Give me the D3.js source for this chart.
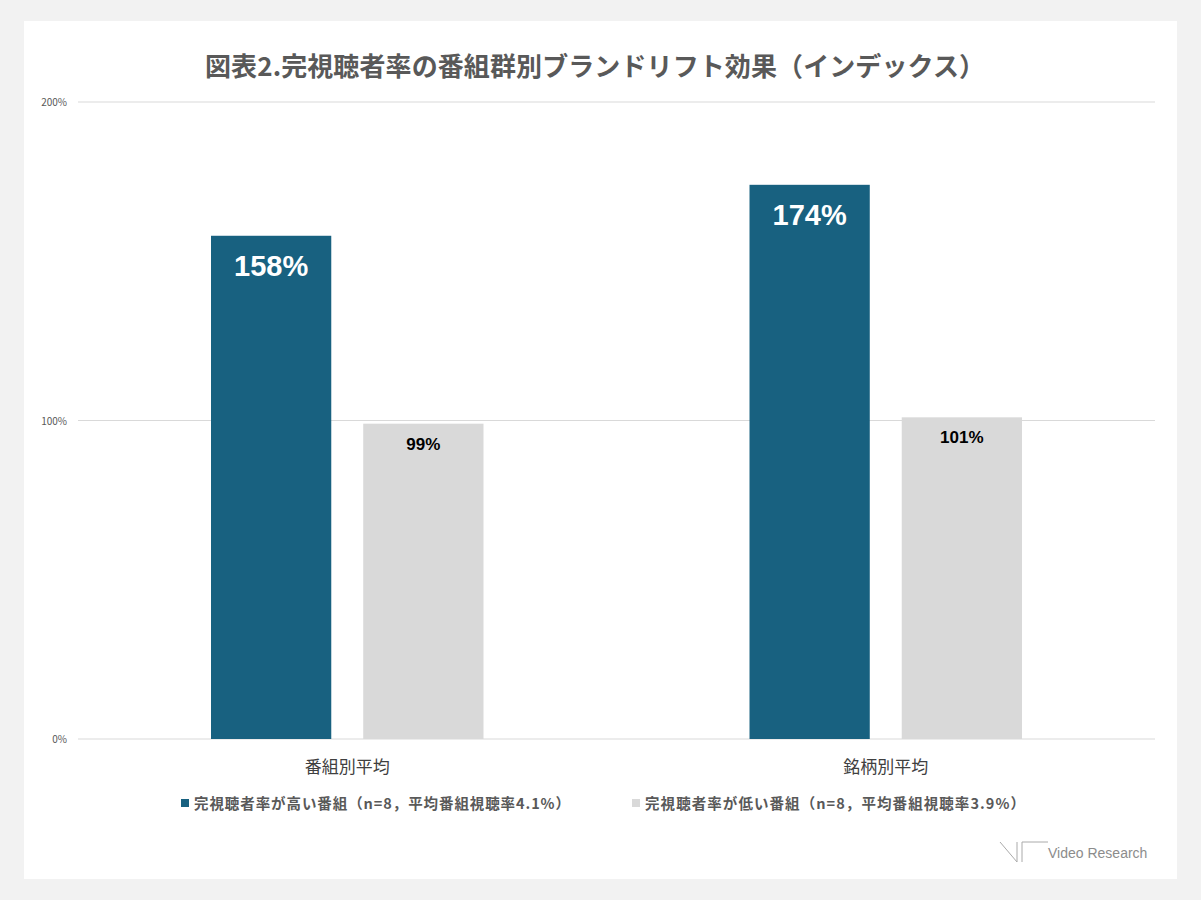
<!DOCTYPE html>
<html><head><meta charset="utf-8">
<script src="https://cdn.jsdelivr.net/npm/d3@7"></script>
<style>body{margin:0;background:#f2f2f2;font-family:"Noto Sans CJK JP","Noto Sans",sans-serif}</style>
</head><body><svg id="c" width="1201" height="900"></svg>
<script>
const categories=["番組別平均","銘柄別平均"];
const seriesNames=["完視聴者率が高い番組（n=8，平均番組視聴率4.1%）","完視聴者率が低い番組（n=8，平均番組視聴率3.9%）"];
const highValues=[158,174];
const lowValues=[99,101];
const tickValues=[0,100,200];
const colors=["#186180","#d9d9d9"];

const svg=d3.select("#c");
svg.append("rect").attr("x",24).attr("y",21).attr("width",1153).attr("height",858).attr("fill","#fff");
svg.append("text").attr("x",595).attr("y",76).attr("text-anchor","middle").attr("font-size",26).attr("font-weight","bold").attr("fill","#595959").attr("textLength",780).text("図表2.完視聴者率の番組群別ブランドリフト効果（インデックス）");

const y=d3.scaleLinear().domain([0,200]).range([739,102]);
const x0=d3.scaleBand().domain(categories).range([78,1155]);
const bw=x0.bandwidth();
const x1=d3.scaleBand().domain([0,1]).range([bw*0.247,bw*0.753]).paddingInner(0.21);

const g=svg.append("g");
tickValues.forEach(t=>{
  g.append("line").attr("x1",78).attr("x2",1155).attr("y1",y(t)).attr("y2",y(t)).attr("stroke","#d9d9d9");
  g.append("text").attr("x",67).attr("y",y(t)+4).attr("text-anchor","end").attr("font-size",10).attr("fill","#595959").text(t+"%");
});
categories.forEach((c,i)=>{
  [highValues[i],lowValues[i]].forEach((v,s)=>{
    const bx=x0(c)+x1(s);
    g.append("rect").attr("x",bx).attr("y",y(v)).attr("width",x1.bandwidth()).attr("height",y(0)-y(v)).attr("fill",colors[s]);
    if(s===0) g.append("text").attr("x",bx+x1.bandwidth()/2).attr("y",y(v)+40).attr("text-anchor","middle").attr("font-size",29).attr("font-weight","bold").attr("fill","#fff").attr("font-family","Liberation Sans, Arial").text(v+"%");
    else g.append("text").attr("x",bx+x1.bandwidth()/2).attr("y",y(v)+26).attr("text-anchor","middle").attr("font-size",17).attr("font-weight","bold").attr("fill","#000").attr("font-family","Liberation Sans, Arial").text(v+"%");
  });
  g.append("text").attr("x",x0(c)+bw/2).attr("y",773).attr("text-anchor","middle").attr("font-size",17).attr("fill","#404040").text(c);
});
const lx=[181,632], lw=[376,380];
seriesNames.forEach((n,i)=>{
  svg.append("rect").attr("x",lx[i]).attr("y",799).attr("width",8).attr("height",8).attr("fill",colors[i]);
  svg.append("text").attr("x",lx[i]+13).attr("y",809).attr("font-size",14.5).attr("font-weight","bold").attr("fill","#595959").attr("textLength",lw[i]).text(n);
});
svg.append("path").attr("d","M1000,842 L1017,862 L1017,842 M1022,862 L1022,842 L1048,842").attr("fill","none").attr("stroke","#aaa").attr("stroke-width",1);
svg.append("text").attr("x",1048).attr("y",858).attr("font-size",14).attr("fill","#8c8c8c").attr("font-family","Liberation Sans, Arial").text("Video Research");
</script></body></html>
